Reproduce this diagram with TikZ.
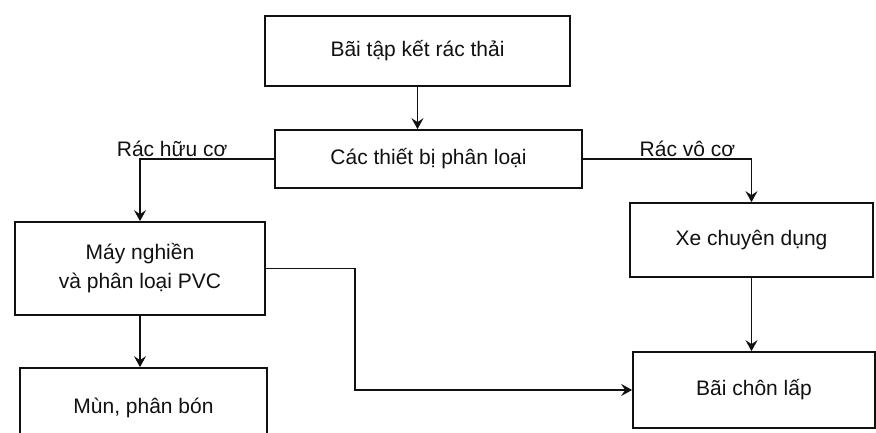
\documentclass[tikz,border=0pt]{standalone}
\usepackage{fontspec}
\setmainfont{Liberation Sans}
\usepackage{xcolor}
\usetikzlibrary{arrows.meta}
\definecolor{inkblack}{HTML}{111111}

\begin{document}
\begin{tikzpicture}[x=1pt,y=1pt,
  text=inkblack,
  nodebox/.style={draw=inkblack,line width=1.7pt,align=center,inner sep=2pt,font=\fontsize{21}{29}\selectfont},
  flowlabel/.style={font=\fontsize{21}{25}\selectfont,inner sep=1pt},
  connector/.style={-{Stealth[length=11pt,width=12pt,inset=4pt]},draw=inkblack,line width=1.6pt}
]
\path[use as bounding box,fill=white] (0,0) rectangle (876,433);

% Sorting chain in the middle
\node[nodebox,minimum width=305,minimum height=70] (collect) at (417.5,382) {Bãi tập kết rác thải};
\node[nodebox,minimum width=307,minimum height=58] (classify) at (428.5,274) {Các thiết bị phân loại};

% Organic branch on the left
\node[nodebox,minimum width=250,minimum height=93] (crusher) at (140,164.5) {Máy nghiền\\và phân loại PVC};
\node[nodebox,minimum width=247,minimum height=80] (humus) at (143.5,25) {Mùn, phân bón};

% Inorganic branch on the right
\node[nodebox,minimum width=243,minimum height=74] (truck) at (751.5,193) {Xe chuyên dụng};
\node[nodebox,minimum width=242,minimum height=76] (landfill) at (754,43) {Bãi chôn lấp};

% Flow
\draw[connector] (collect.south) -- (collect.south |- classify.north);
\draw[connector] (classify.west) -| node[flowlabel,pos=0.38,above] {Rác hữu cơ} (crusher.north);
\draw[connector] (classify.east) -| node[flowlabel,pos=0.31,above] {Rác vô cơ} (truck.north);
\draw[connector] (truck.south) -- (truck.south |- landfill.north);
\draw[connector] (crusher.south) -- (crusher.south |- humus.north);
\draw[connector] (crusher.east) -- ++(89,0) |- (landfill.west);

\end{tikzpicture}
\end{document}
